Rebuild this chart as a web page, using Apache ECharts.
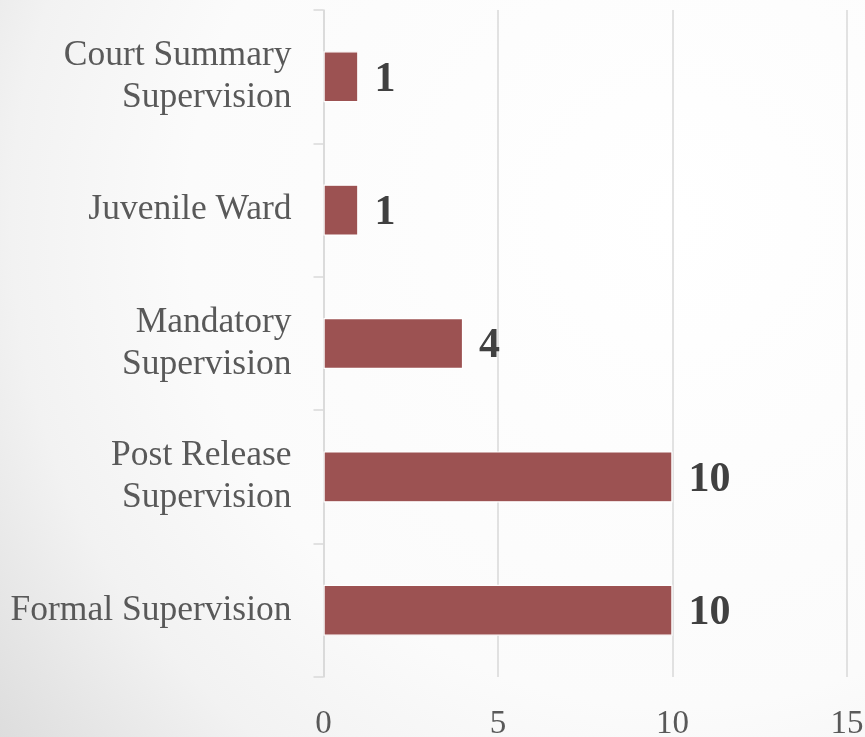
<!DOCTYPE html>
<html>
<head>
<meta charset="utf-8">
<script src="https://cdn.jsdelivr.net/npm/echarts@6/dist/echarts.min.js"></script>
<style>
  html, body { margin: 0; padding: 0; }
  #chart { width: 865px; height: 737px; }
</style>
</head>
<body>
<div id="chart"></div>
<script>
// Supervision types (bottom to top on the category axis)
const categories = [
  'Formal Supervision',
  'Post Release\nSupervision',
  'Mandatory\nSupervision',
  'Juvenile Ward',
  'Court Summary\nSupervision'
];
const counts = [10, 10, 4, 1, 1];
const xTicks = [0, 5, 10, 15];

const serif = '"Liberation Serif", "DejaVu Serif", serif';

const chart = echarts.init(document.getElementById('chart'));
chart.setOption({
  backgroundColor: {
    type: 'radial', x: 0.78, y: 0.3, r: 1.2,
    colorStops: [
      { offset: 0, color: '#ffffff' },
      { offset: 0.55, color: '#fbfbfb' },
      { offset: 0.75, color: '#f2f2f2' },
      { offset: 0.95, color: '#dedede' },
      { offset: 1, color: '#dadada' }
    ]
  },
  animation: false,
  grid: {
    left: 323.5, right: 18, top: 10, bottom: 60,
    containLabel: false,
    outerBoundsMode: 'none'
  },
  xAxis: {
    type: 'value',
    min: xTicks[0],
    max: xTicks[xTicks.length - 1],
    interval: xTicks[1] - xTicks[0],
    axisLine: { show: false },
    axisTick: { show: false },
    splitLine: { show: true, lineStyle: { color: '#d9d9d9', width: 1.5 } },
    axisLabel: {
      margin: 31,
      fontFamily: serif,
      fontSize: 33,
      color: '#595959'
    }
  },
  yAxis: {
    type: 'category',
    data: categories,
    axisLine: { show: true, lineStyle: { color: '#d9d9d9', width: 1.5 } },
    axisTick: { show: true, length: 10, lineStyle: { color: '#d9d9d9', width: 1.5 } },
    splitLine: { show: false },
    axisLabel: {
      margin: 32,
      fontFamily: serif,
      fontSize: 35.5,
      lineHeight: 42,
      padding: [6, 0, 0, 0],
      color: '#595959',
      align: 'right'
    }
  },
  series: [{
    type: 'bar',
    data: counts,
    barWidth: 51,
    itemStyle: { color: '#9c5252', borderColor: '#ffffff', borderWidth: 1.2 },
    label: {
      show: true,
      position: 'right',
      distance: 16,
      offset: [0, 3],
      fontFamily: serif,
      fontWeight: 'bold',
      fontSize: 42,
      color: '#404040'
    }
  }]
});
</script>
</body>
</html>
